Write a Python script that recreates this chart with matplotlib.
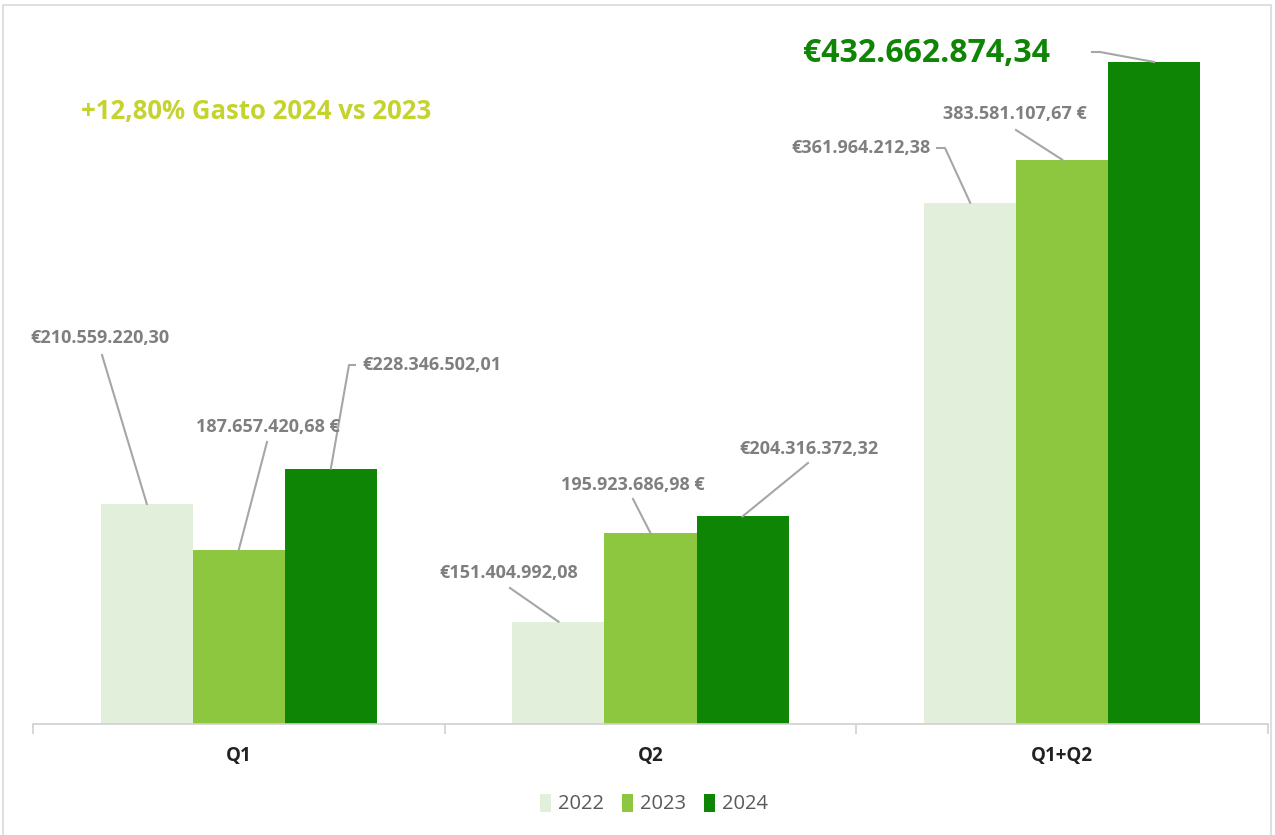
import numpy as np
import matplotlib.pyplot as plt
from matplotlib.patches import Rectangle
from matplotlib.lines import Line2D

plt.rcParams['font.family'] = ['Open Sans', 'DejaVu Sans']

categories = ["Q1", "Q2", "Q1+Q2"]
years = ["2022", "2023", "2024"]
values = {
    "2022": [210559220.30, 151404992.08, 361964212.38],
    "2023": [187657420.68, 195923686.98, 383581107.67],
    "2024": [228346502.01, 204316372.32, 432662874.34],
}
labels = {
    "2022": ["€210.559.220,30", "€151.404.992,08", "€361.964.212,38"],
    "2023": ["187.657.420,68 €", "195.923.686,98 €", "383.581.107,67 €"],
    "2024": ["€228.346.502,01", "€204.316.372,32", "€432.662.874,34"],
}
colors = {"2022": "#E2EFDA", "2023": "#8DC63F", "2024": "#0E8505"}
headline = "+12,80% Gasto 2024 vs 2023"

W, H = 1275, 835
fig = plt.figure(figsize=(W / 100, H / 100), dpi=100)
ax = fig.add_axes([33 / W, 1 - 724 / H, (1268 - 33) / W, (724 - 27.5) / H])

x = np.arange(len(categories))
bw = 0.2235
offs = {"2022": -bw, "2023": 0.0, "2024": bw}
for yr in years:
    ax.bar(x + offs[yr], values[yr], width=bw, color=colors[yr], label=yr, zorder=2)

ax.set_xlim(-0.5, 2.5)
ax.set_ylim(100e6, 450e6)
for s in ["top", "right", "left"]:
    ax.spines[s].set_visible(False)
ax.spines["bottom"].set_color("#d0d0d0")
ax.spines["bottom"].set_linewidth(1.2)
ax.set_yticks([])
ax.set_xticks(x)
ax.set_xticklabels(categories, fontsize=13.5, fontweight="bold", color="#222222")
ax.tick_params(axis="x", length=0, pad=16)
ax.set_xticks([-0.5, 0.5, 1.5, 2.5], minor=True)
ax.tick_params(axis="x", which="minor", length=7, color="#d0d0d0", width=1.2)

# label text positions (figure px from top-left), leader waypoints
label_pos = {
    "2022": [(100, 338), (509, 573), (861, 148)],
    "2023": [(268, 427), (633, 485), (1015, 114)],
    "2024": [(432, 365), (809, 449), (926, 53)],
}
leader_pts = {
    "2022": [[(102, 355)], [(510, 588)], [(937, 148), (945, 148)]],
    "2023": [[(267, 442)], [(633, 499)], [(1016, 130)]],
    "2024": [[(355, 365), (349, 365)], [(808, 463)], [(1092, 52), (1100, 52)]],
}

fig.canvas.draw()
to_fig = ax.transData
for yr in years:
    for i, v in enumerate(values[yr]):
        bx, by = to_fig.transform((x[i] + offs[yr], v))
        pts = [(px, H - py) for px, py in leader_pts[yr][i]] + [(bx, by)]
        xs, ys = zip(*pts)
        fig.add_artist(Line2D(np.array(xs) / W, np.array(ys) / H, color="#a6a6a6",
                              lw=1.5, transform=fig.transFigure))
        tx, ty = label_pos[yr][i]
        big = (yr == "2024" and i == 2)
        fig.text(tx / W, 1 - ty / H, labels[yr][i], ha="center", va="center",
                 fontsize=23 if big else 13, fontweight="bold",
                 color="#0E8505" if big else "#7f7f7f")

fig.text(256 / W, 1 - 111 / H, headline, ha="center", va="center", fontsize=18.5,
         fontweight="bold", color="#C5D32F")

leg = fig.legend(loc="center", bbox_to_anchor=(654 / W, 1 - 804 / H), ncol=3,
                 frameon=False, fontsize=14.5, handlelength=0.55, handleheight=1.0,
                 handletextpad=0.35, columnspacing=0.9)
for t in leg.get_texts():
    t.set_color("#595959")

fig.add_artist(Rectangle((3 / W, -0.01), (1271 - 3) / W, 1.01 - 5 / H, fill=False,
                         edgecolor="#d9d9d9", lw=1.2, transform=fig.transFigure))

fig.savefig("out.png", dpi=100, facecolor="white")
